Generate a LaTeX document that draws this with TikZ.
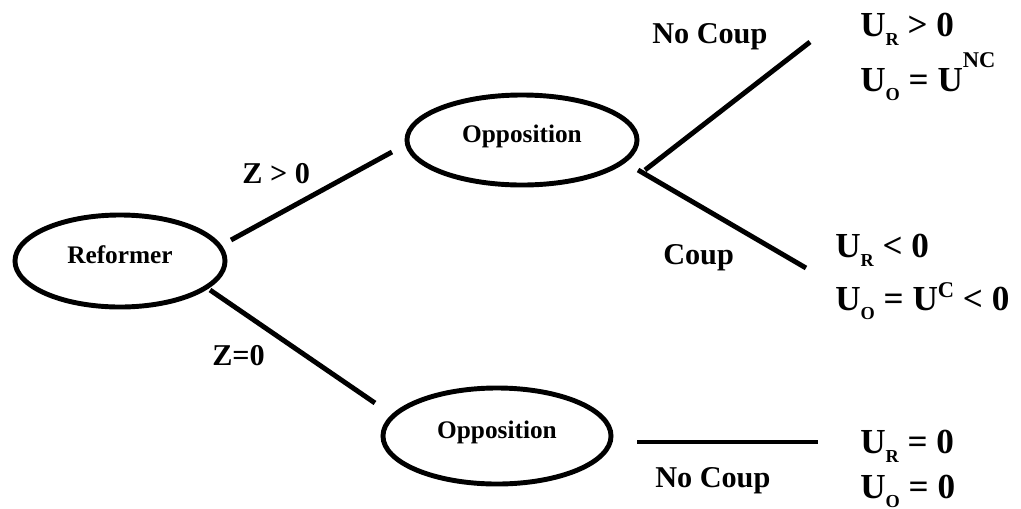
\documentclass[tikz,border=0pt]{standalone}
\usepackage{fontspec}
\setmainfont{Liberation Serif}
\usetikzlibrary{shapes.geometric}
\tikzstyle{playernode}=[draw,ellipse,line width=3.5pt,outer sep=0pt,inner sep=0pt,font=\fontsize{18}{20}\selectfont\bfseries,text height=12pt,text depth=9pt]
\tikzstyle{branchline}=[line width=3.5pt]
\tikzstyle{movelabel}=[anchor=base west,inner sep=0pt,font=\fontsize{21.5}{24}\selectfont\bfseries]
\tikzstyle{payofftext}=[anchor=base west,inner sep=0pt,font=\fontsize{25}{30}\selectfont\bfseries]
\newcommand{\payoffsub}[1]{\raisebox{-7pt}{\fontsize{13}{13}\selectfont #1}}
\newcommand{\payoffsup}[2][17pt]{\raisebox{#1}{\fontsize{16}{16}\selectfont #2}}

\begin{document}
\begin{tikzpicture}[x=0.025cm,y=-0.025cm]
  \useasboundingbox (0,0) rectangle (1021,508);
  % players
  \node[playernode,minimum width=5.25cm,minimum height=2.3cm] (ref) at (120,261) {Reformer};
  \node[playernode,minimum width=5.75cm,minimum height=2.25cm] (opp1) at (522,140) {Opposition};
  \node[playernode,minimum width=5.7cm,minimum height=2.4cm] (opp2) at (497,436) {Opposition};
  % free ends
  \coordinate (nc-end) at (810,42);
  \coordinate (c-end) at (806,268);
  \coordinate (z-end) at (818,442);
  % branches
  \draw[branchline] ([shift={(6,-21)}]ref.east) -- ([shift={(-15,12)}]opp1.west); %Z>0
  \draw[branchline] ([shift={(-15,29)}]ref.east) -- ([shift={(-8,-33)}]opp2.west); %Z=0
  \draw[branchline] ([shift={(8,30)}]opp1.east) -- (nc-end); %no coup
  \draw[branchline] ([shift={(1,30)}]opp1.east) -- (c-end); %coup
  \draw[branchline] ([shift={(26,6)}]opp2.east) -- (z-end); %no coup
  % moves
  \node[movelabel] (lzpos) at (242,183) {Z > 0};
  \node[movelabel] (lzzero) at (212,365) {Z=0};
  \node[movelabel] (lnc) at (652,43) {No Coup};
  \node[movelabel] (lc) at (663,264) {Coup};
  \node[movelabel] (lnczero) at (655,487) {No Coup};
  % payoffs
  \node[payofftext] (nc-r) at (860,36) {U\payoffsub{R} > 0};
  \node[payofftext] (nc-o) at (860,91) {U\payoffsub{O} = U\payoffsup{NC}};
  \node[payofftext] (c-r) at (835,257) {U\payoffsub{R} < 0};
  \node[payofftext] (c-o) at (835,310) {U\payoffsub{O} = U\payoffsup[9pt]{C} < 0};
  \node[payofftext] (z-r) at (860,453) {U\payoffsub{R} = 0};
  \node[payofftext] (z-o) at (860,498) {U\payoffsub{O} = 0};
\end{tikzpicture}
\end{document}
